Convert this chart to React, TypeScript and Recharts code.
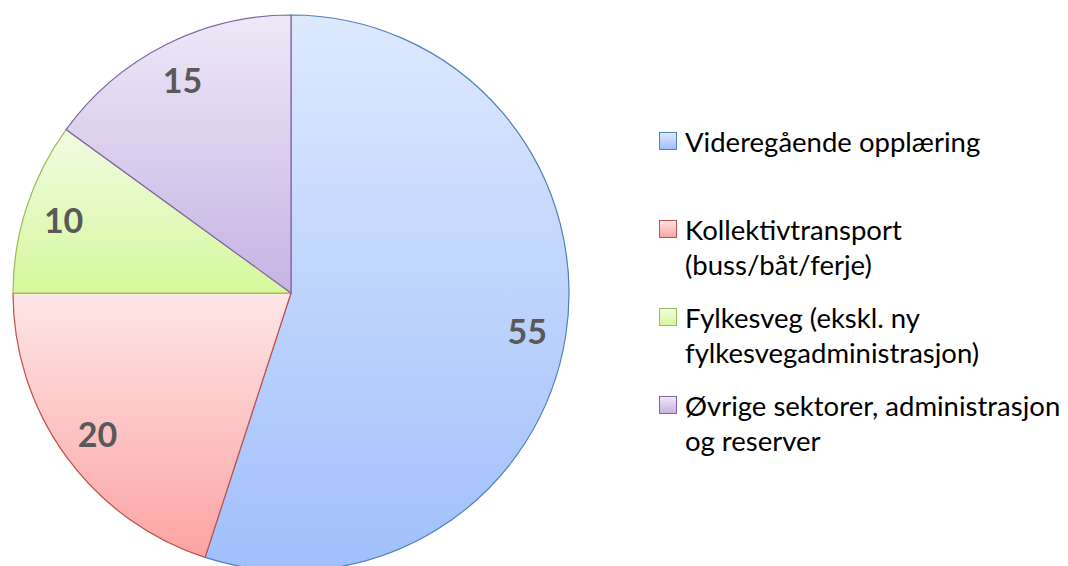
import React from 'react';
import { PieChart, Pie, Cell, Legend } from 'recharts';

const categories = [
  'Videregående opplæring',
  'Kollektivtransport (buss/båt/ferje)',
  'Fylkesveg (ekskl. ny fylkesvegadministrasjon)',
  'Øvrige sektorer, administrasjon og reserver',
];
const values = [55, 20, 10, 15];

const topColors = ['#dde9fe', '#fee6e6', '#f1fbe3', '#eee8f7'];
const bottomColors = ['#a0bffb', '#fca3a3', '#d5f89c', '#c6b3e3'];
const strokeColors = ['#4f81bd', '#c0504d', '#9bbb59', '#8064a2'];

const data = categories.map((name, i) => ({ name, value: values[i] }));

const RADIAN = Math.PI / 180;
const FONT = 'Lato, "Open Sans", sans-serif';

const renderLabel = (props: any) => {
  const { cx, cy, midAngle, outerRadius, value } = props;
  const r = outerRadius * 0.86;
  const x = cx + r * Math.cos(-midAngle * RADIAN);
  const y = cy + r * Math.sin(-midAngle * RADIAN);
  return (
    <text
      x={x}
      y={y}
      textAnchor="middle"
      dominantBaseline="central"
      fill="#595959"
      fontFamily={FONT}
      fontWeight={700}
      fontSize={34}
    >
      {value}
    </text>
  );
};

const renderLegend = (props: any) => {
  const payload = [...(props.payload || [])].sort(
    (a: any, b: any) => categories.indexOf(a.value) - categories.indexOf(b.value)
  );
  return (
    <div style={{ fontFamily: FONT, fontSize: 27.5, color: '#000', lineHeight: '35px' }}>
      {payload.map((entry: any) => {
        const i = categories.indexOf(entry.value);
        return (
          <div key={i} style={{ position: 'relative', height: 88 }}>
            <div
              style={{
                position: 'absolute',
                left: 0,
                top: 8,
                width: 16,
                height: 16,
                border: `1px solid ${strokeColors[i]}`,
                background: `linear-gradient(${topColors[i]}, ${bottomColors[i]})`,
              }}
            />
            <div style={{ position: 'absolute', left: 26, top: 0, width: 383 }}>{entry.value}</div>
          </div>
        );
      })}
    </div>
  );
};

export default function App() {
  return (
    <div style={{ position: 'absolute', left: 0, top: 0, background: '#fff' }}>
      <PieChart width={1068} height={566} margin={{ top: 0, right: 0, bottom: 0, left: 0 }}>
        <defs>
          {values.map((_, i) => (
            <linearGradient key={i} id={`grad${i}`} x1="0" y1="0" x2="0" y2="1">
              <stop offset="0%" stopColor={topColors[i]} />
              <stop offset="100%" stopColor={bottomColors[i]} />
            </linearGradient>
          ))}
        </defs>
        <Pie
          data={data}
          dataKey="value"
          nameKey="name"
          cx={291}
          cy={293}
          outerRadius={278}
          startAngle={90}
          endAngle={-270}
          isAnimationActive={false}
          label={renderLabel}
          labelLine={false}
        >
          {data.map((_, i) => (
            <Cell key={i} fill={`url(#grad${i})`} stroke={strokeColors[i]} strokeWidth={1.2} />
          ))}
        </Pie>
        <Legend
          layout="vertical"
          content={renderLegend}
          wrapperStyle={{ position: 'absolute', left: 659, top: 124, width: 409, height: 400 }}
        />
      </PieChart>
    </div>
  );
}
